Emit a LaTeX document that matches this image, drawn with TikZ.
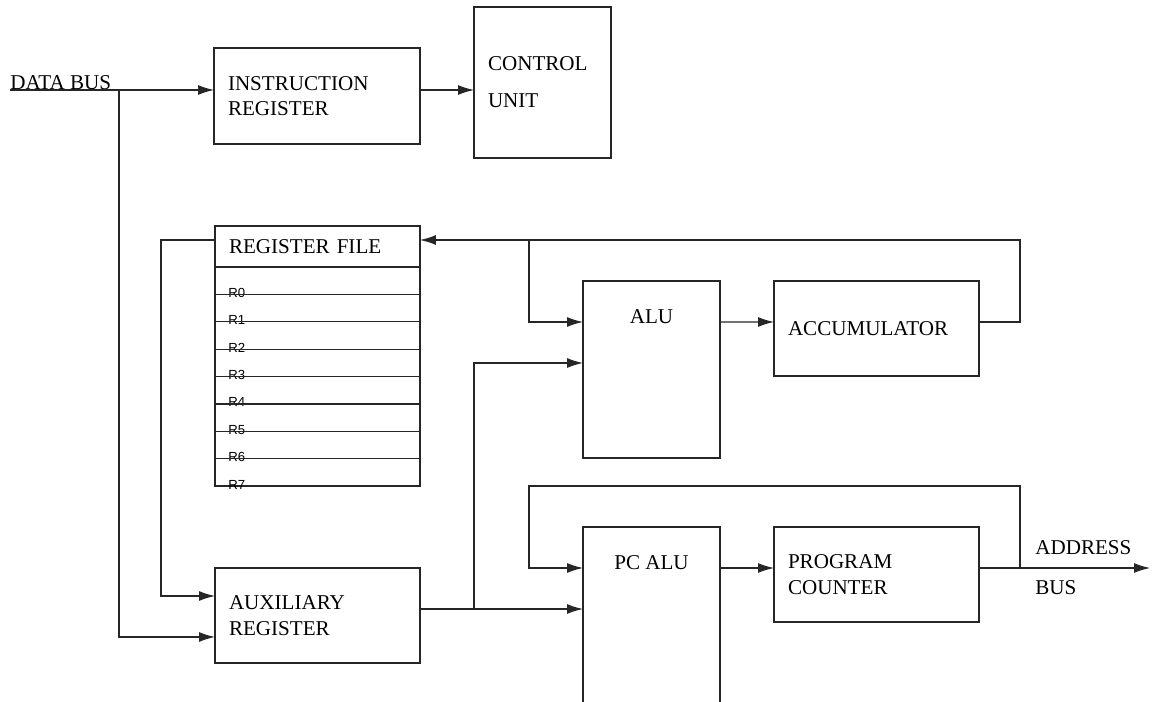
\documentclass[tikz,border=0pt]{standalone}
\usepackage{fontspec}
\setmainfont{Liberation Serif}
\newfontfamily\regfont{Liberation Sans}
\usetikzlibrary{arrows.meta,positioning}

\begin{document}
\begin{tikzpicture}[
  x=0.02cm, y=-0.02cm,
  blk/.style={rectangle, draw=black!85, line width=0.75pt, outer sep=0pt,
              inner xsep=0.28cm, inner ysep=0pt, align=left,
              font=\fontsize{12}{14.5}\selectfont},
  regrow/.style={rectangle, draw=black!85, line width=0.75pt, outer sep=0pt,
                 minimum width=4.1cm, minimum height=0.548cm, inner sep=0pt},
  reglbl/.style={anchor=base west, xshift=0.26cm, yshift=-0.06cm, inner sep=0pt,
                 font=\regfont\fontsize{7.5}{8}\selectfont},
  toplbl/.style={anchor=north, yshift=-0.56cm, inner sep=0pt,
                 font=\fontsize{12}{14.5}\selectfont},
  txt/.style={inner sep=0pt, font=\fontsize{12}{14.5}\selectfont},
  arrow/.style={-{Latex[length=3.2mm,width=2mm]}, line width=0.7pt, color=black!85}
]
  \useasboundingbox (0,0) rectangle (1152,702);
  \clip (0,0) rectangle (1152,702);

  % Top row
  \node[txt, anchor=base west] (dbus) at (10,90) {DATA BUS};
  \node[blk, anchor=north west, text width=3.56cm, minimum height=1.92cm] (ir) at (214,48)
    {INSTRUCTION\\REGISTER};
  \node[blk, anchor=north west, text width=2.18cm, minimum height=3.02cm] (cu) at (474,7)
    {CONTROL\\[6.5pt]UNIT};

  % Register file
  \node[blk, anchor=north west, text width=3.54cm, minimum height=0.82cm] (hdr) at (215,226)
    {REGISTER FILE};
  \node[regrow, below=0pt of hdr, label={[reglbl]south west:R0}] (r0) {};
  \node[regrow, below=0pt of r0, label={[reglbl]south west:R1}] (r1) {};
  \node[regrow, below=0pt of r1, label={[reglbl]south west:R2}] (r2) {};
  \node[regrow, below=0pt of r2, label={[reglbl]south west:R3}] (r3) {};
  \node[regrow, below=0pt of r3, label={[reglbl]south west:R4}] (r4) {};
  \node[regrow, below=0pt of r4, label={[reglbl]south west:R5}] (r5) {};
  \node[regrow, below=0pt of r5, label={[reglbl]south west:R6}] (r6) {};
  \node[regrow, below=0pt of r6, label={[reglbl]south west:R7}] (r7) {};

  % Auxiliary register
  \node[blk, anchor=north west, text width=3.54cm, minimum height=1.9cm] (aux) at (215,568)
    {AUXILIARY\\REGISTER};

  % ALU and accumulator
  \node[blk, anchor=north west, minimum width=2.74cm, minimum height=3.54cm,
        label={[toplbl]north:ALU}] (alu) at (583,281) {};
  \node[blk, anchor=north west, text width=3.54cm, minimum height=1.9cm] (acc) at (774,281)
    {ACCUMULATOR};

  % PC ALU and program counter
  \node[blk, anchor=north west, minimum width=2.74cm, minimum height=4.6cm,
        label={[toplbl]north:PC ALU}] (pcalu) at (583,527) {};
  \node[blk, anchor=north west, text width=3.54cm, minimum height=1.9cm] (pc) at (774,527)
    {PROGRAM\\COUNTER};
  \node[txt, anchor=west] (addr) at (1035,548) {ADDRESS};
  \node[txt, anchor=west] (abus) at (1035,588) {BUS};

  % Branch points
  \coordinate (dtap) at (119,90);
  \coordinate (rtap) at (161,240);
  \coordinate (ftap) at (529,240);
  \coordinate (atap) at (474,609);
  \coordinate (ptap) at (1020,568);
  \coordinate (pcorner) at (529,486);
  \coordinate (abend) at (1150,568);

  % Arrows
  \draw[arrow] (dbus.base west) -- (ir.west |- dbus.base);
  \draw[arrow] (ir.east |- dbus.base) -- (cu.west |- dbus.base);
  \draw[arrow] (dtap) |- ([yshift=-0.43cm]aux.west);
  \draw[arrow] (hdr.west |- rtap) -- (rtap) |- ([yshift=0.39cm]aux.west);
  \draw[arrow] ([yshift=0.13cm]acc.east) -- ++(41,0) |- (hdr.east |- ftap);
  \draw[arrow] (ftap) |- ([yshift=0.95cm]alu.west);
  \draw[arrow] ([yshift=0.95cm]alu.east) -- ([yshift=0.13cm]acc.west);
  \draw[arrow] (aux.east |- atap) -- (pcalu.west |- atap);
  \draw[arrow] (atap) |- ([yshift=0.13cm]alu.west);
  \draw[arrow] (pcalu.east |- ptap) -- (pc.west |- ptap);
  \draw[arrow] (pc.east |- ptap) -- (abend);
  \draw[arrow] (ptap) |- (pcorner) |- (pcalu.west |- ptap);
\end{tikzpicture}
\end{document}
